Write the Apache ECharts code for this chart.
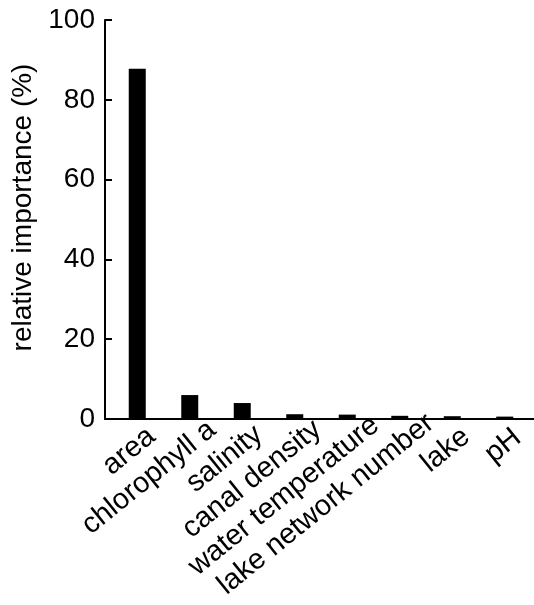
<!DOCTYPE html>
<html>
<head>
<meta charset="utf-8">
<script src="https://cdn.jsdelivr.net/npm/echarts@6/dist/echarts.min.js"></script>
<style>
  html, body { margin: 0; padding: 0; background: #fff; }
  #chart { width: 534px; height: 605px; }
</style>
</head>
<body>
<div id="chart"></div>
<script>
// Relative importance of each predictor (%)
const categories = ['area', 'chlorophyll a', 'salinity', 'canal density',
  'water temperature', 'lake network number', 'lake', 'pH'];
const importance = [87.8, 6.0, 4.0, 1.2, 1.1, 0.8, 0.7, 0.6];
const yTicks = [0, 20, 40, 60, 80, 100];

const FONT = 'Liberation Sans, Arial, Helvetica, sans-serif';
const FS = 28;      // y axis text
const FS_X = 29;    // category labels

// Category labels hang from their tick with the end of the text running a
// little past the tick (further for longer names). Each label is centred on
// the tick with a trailing blank of matching width to push it into place.
const measureCtx = document.createElement('canvas').getContext('2d');
measureCtx.font = FS_X + 'px ' + FONT;
const labelRich = {};
categories.forEach((name, i) => {
  const w = measureCtx.measureText(name).width;
  const overhang = 1 + 0.1 * w;
  labelRich['g' + i] = { width: Math.max(0, w - 2 * overhang) };
  labelRich['t' + i] = { fontFamily: FONT, fontSize: FS_X, color: '#000' };
});

const chart = echarts.init(document.getElementById('chart'));
chart.setOption({
  animation: false,
  backgroundColor: '#fff',
  grid: [
    // frame grid: carries the axis lines, ticks and y labels
    { left: 105, right: 0, top: 20, bottom: 186, outerBoundsMode: 'none', containLabel: false },
    // bar grid: the category bands sit slightly inside the frame
    { left: 111, right: 3, top: 20, bottom: 186, outerBoundsMode: 'none', containLabel: false }
  ],
  xAxis: [
    {
      gridIndex: 0, type: 'value', min: 0, max: 1,
      axisLine: { show: true, lineStyle: { color: '#000', width: 2 } },
      axisTick: { show: false }, axisLabel: { show: false }, splitLine: { show: false }
    },
    {
      gridIndex: 1, type: 'category', data: categories,
      axisLine: { show: false }, axisTick: { show: false },
      axisLabel: {
        interval: 0, rotate: 39, align: 'center', verticalAlign: 'top', margin: 7,
        color: '#000', fontFamily: FONT, fontSize: FS_X,
        formatter: (value, idx) => '{t' + idx + '|' + value + '}{g' + idx + '| }',
        rich: labelRich
      }
    }
  ],
  yAxis: [
    {
      gridIndex: 0, type: 'value', min: yTicks[0], max: yTicks[yTicks.length - 1], interval: 20,
      name: 'relative importance (%)', nameLocation: 'middle', nameGap: 66,
      nameTextStyle: { color: '#000', fontFamily: FONT, fontSize: FS, padding: [0, 0, 0, 24] },
      axisLine: { show: true, lineStyle: { color: '#000', width: 2 } },
      axisTick: { show: true, inside: true, length: 7, lineStyle: { color: '#000', width: 2 } },
      axisLabel: { margin: 10, color: '#000', fontFamily: FONT, fontSize: FS },
      splitLine: { show: false }
    },
    {
      gridIndex: 1, type: 'value', min: yTicks[0], max: yTicks[yTicks.length - 1],
      show: false, splitLine: { show: false }
    }
  ],
  series: [{
    type: 'bar', xAxisIndex: 1, yAxisIndex: 1,
    data: importance, barWidth: 17,
    itemStyle: { color: '#000' }
  }]
});
</script>
</body>
</html>
